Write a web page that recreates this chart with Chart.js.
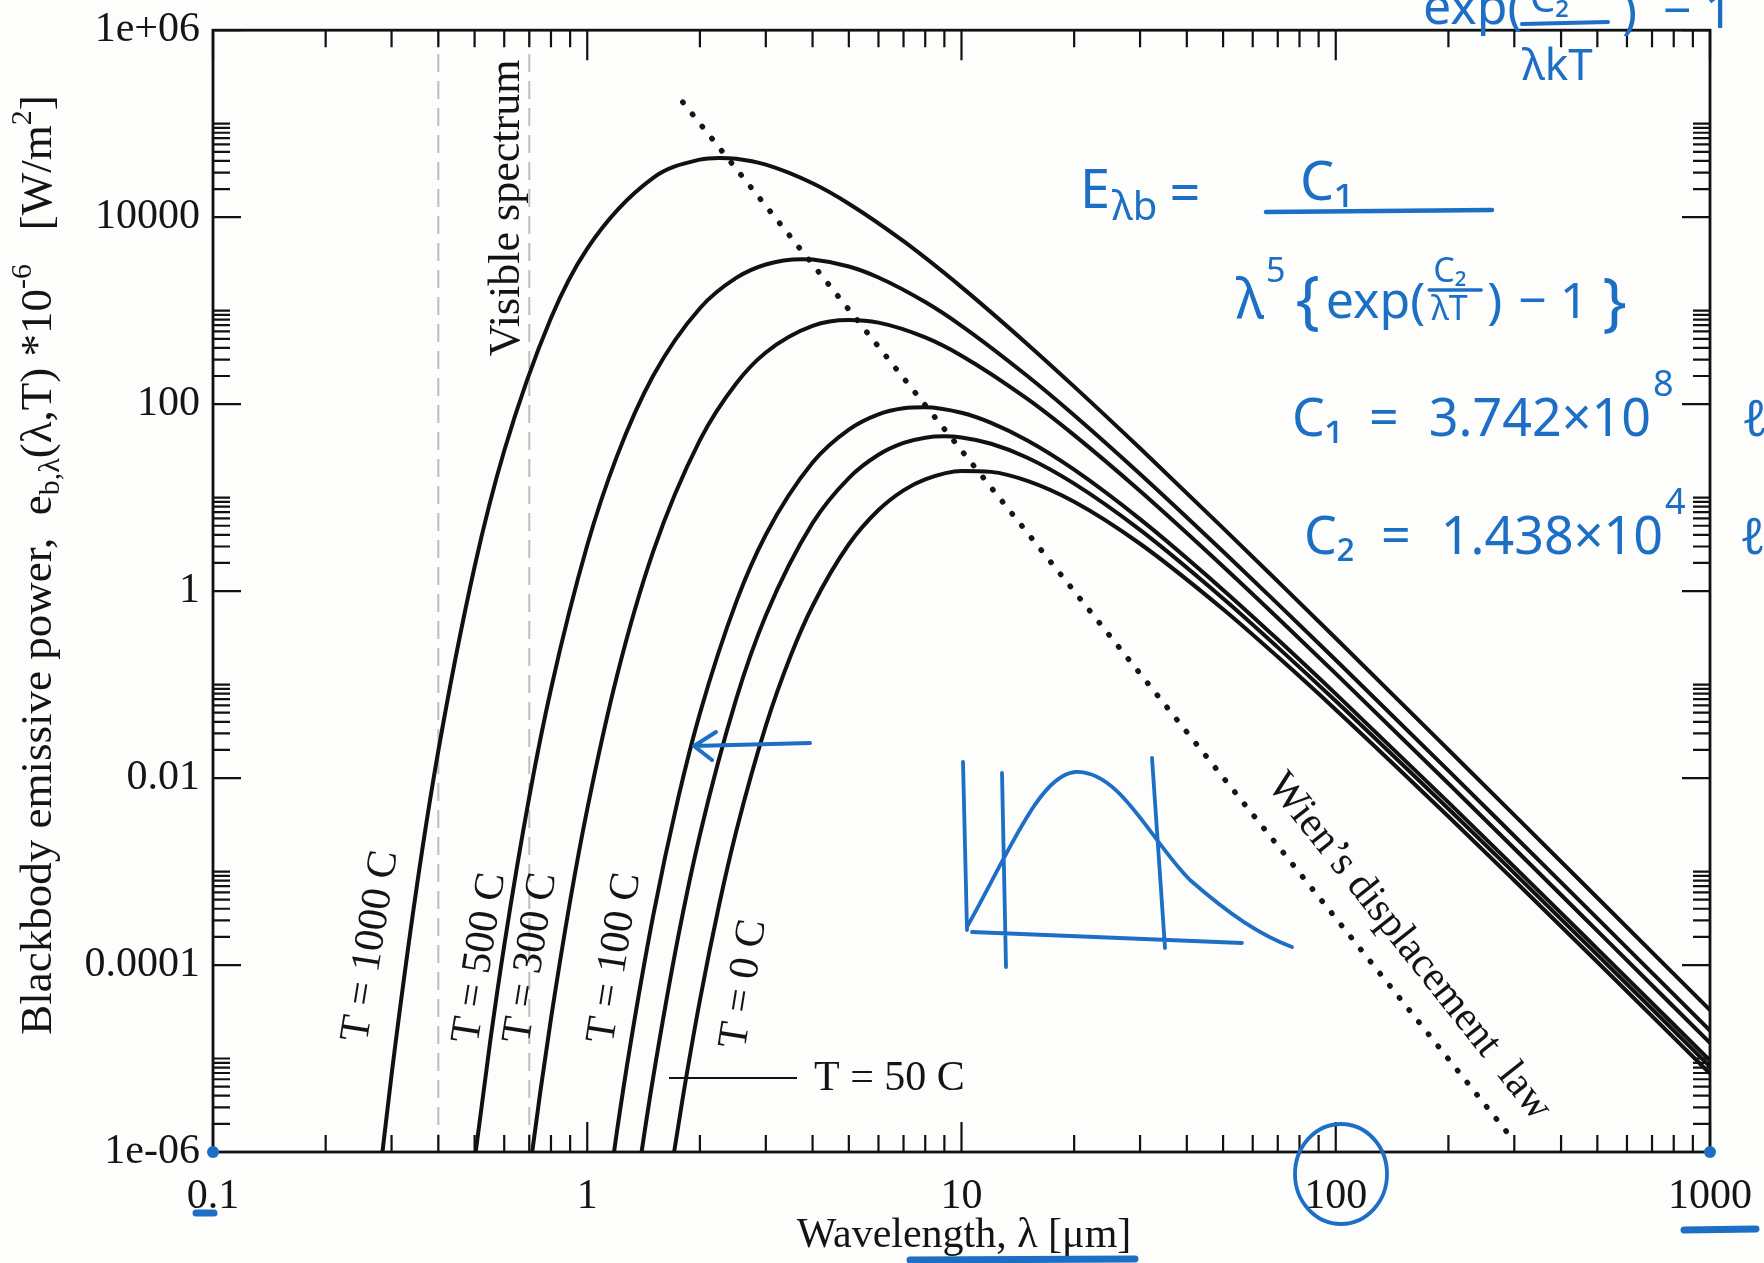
<!DOCTYPE html>
<html>
<head>
<meta charset="utf-8">
<script src="https://cdn.jsdelivr.net/npm/chart.js@4.4.1/dist/chart.umd.min.js"></script>
<style>
  html, body { margin: 0; padding: 0; background: #fdfdfc; }
  #wrap { width: 1764px; height: 1263px; }
</style>
</head>
<body>
<div id="wrap"><canvas id="chart" width="1764" height="1263"></canvas></div>
<script>
// wavelengths [um] and blackbody emissive power
const wl1000 = [0.28, 0.3, 0.35, 0.4, 0.5, 0.6, 0.8, 1, 1.5, 2, 2.25, 2.5, 3, 4, 5, 7, 10, 15, 20, 30, 50, 70, 100, 200, 300, 500, 1000];
const e1000 = [6.4e-7, 6.7e-6, 6.7e-4, 0.0195, 1.82, 31.7, 835, 4620, 26360, 41260, 43000, 42150, 36440, 23030, 13940, 5530, 1785, 438, 153.9, 33.7, 4.72, 1.27, 0.313, 0.0201, 0.00401, 5.24e-4, 3.29e-5];

const wl500 = [0.48, 0.5, 0.55, 0.6, 0.7, 0.8, 1, 1.2, 1.5, 2, 2.5, 3, 3.75, 4, 5, 6, 8, 10, 15, 20, 30, 50, 70, 100, 200, 300, 500, 1000];
const e500 = [2.12e-7, 8.15e-7, 1.49e-5, 1.62e-4, 0.0063, 0.0897, 3.09, 27.6, 201, 1062, 2240, 3119, 3550, 3518, 2966, 2264, 1235, 689, 200, 76.1, 17.9, 2.65, 0.731, 0.183, 0.012, 0.0024, 3.16e-4, 1.99e-5];

const wl300 = [0.68, 0.7, 0.75, 0.8, 0.9, 1, 1.2, 1.5, 2, 2.5, 3, 4, 5, 6, 8, 10, 15, 20, 30, 50, 70, 100, 200, 300, 500, 1000];
const e300 = [2.36e-7, 5.87e-7, 4.55e-6, 2.67e-5, 4.84e-4, 0.00466, 0.123, 2.645, 41.2, 166.5, 357, 688, 794, 744, 517, 330, 113.7, 46.6, 11.76, 1.835, 0.516, 0.131, 0.00874, 0.001764, 2.32e-4, 1.47e-5];

const wl100 = [1.1, 1.2, 1.3, 1.5, 1.75, 2, 2.5, 3, 4, 5, 6, 7, 8, 10, 12, 15, 20, 30, 50, 70, 100, 200, 300, 500, 1000];
const e100 = [1.37e-7, 1.65e-6, 1.31e-5, 3.35e-4, 0.0061, 0.0492, 0.763, 4.01, 23.7, 53.4, 77.8, 90.4, 92.7, 80.8, 63.0, 40.8, 19.9, 5.88, 1.03, 0.303, 0.0795, 0.0055, 0.001123, 1.49e-4, 9.52e-6];

const wl50 = [1.3, 1.4, 1.5, 1.75, 2, 2.5, 3, 4, 5, 6, 7, 8, 9, 10, 12, 15, 20, 30, 50, 70, 100, 200, 300, 500, 1000];
const e50 = [1.33e-7, 1.06e-6, 6.25e-6, 2.01e-4, 0.00248, 0.070, 0.548, 5.33, 16.2, 28.7, 38.4, 43.8, 45.2, 44.0, 37.7, 26.7, 14.1, 4.51, 0.833, 0.250, 0.0667, 0.00469, 9.62e-4, 1.285e-4, 8.21e-6];

const wl0 = [1.6, 1.7, 1.8, 2, 2.25, 2.5, 3, 3.5, 4, 5, 6, 7, 8, 10, 12, 15, 20, 30, 50, 70, 100, 200, 300, 500, 1000];
const e0 = [1.76e-7, 9.06e-7, 3.81e-6, 4.2e-5, 4.36e-4, 0.00268, 0.0361, 0.2056, 0.693, 3.17, 7.37, 11.97, 15.7, 19.3, 18.85, 15.1, 9.03, 3.21, 0.640, 0.198, 0.0539, 0.00388, 8.02e-4, 1.077e-4, 6.91e-6];

// Wien's displacement line (dotted) end points
const wienWl = [1.8, 300];
const wienE = [1.7e5, 1.3e-6];

// visible spectrum limits [um]
const visibleWl = [0.4, 0.7];

const xTickValues = [0.1, 1, 10, 100, 1000];
const xTickLabels = ['0.1', '1', '10', '100', '1000'];
const yTickValues = [1e-6, 1e-4, 1e-2, 1, 100, 1e4, 1e6];
const yTickLabels = ['1e-06', '0.0001', '0.01', '1', '100', '10000', '1e+06'];

const SERIF = '"Liberation Serif", "DejaVu Serif", serif';
const HAND = '"Noto Sans", "Open Sans", sans-serif';
const INK = '#1c6fc4';

function pts(xs, ys) {
  return xs.map((x, i) => ({ x: x, y: ys[i] }));
}

function labelFor(v, values, labels) {
  for (let i = 0; i < values.length; i++) {
    if (Math.abs(Math.log10(v) - Math.log10(values[i])) < 1e-9) return labels[i];
  }
  return '';
}

// majors plus 2..9 minors inside a decade
function xTicks() {
  const out = [];
  for (let d = 0; d < xTickValues.length; d++) {
    const m = xTickValues[d];
    out.push({ value: m, major: true });
    if (d < xTickValues.length - 1) for (let k = 2; k <= 9; k++) out.push({ value: m * k, major: false });
  }
  return out;
}
// y axis: labelled every two decades, minors only in the decade above each label
function yTicks() {
  const out = [];
  for (let d = 0; d < yTickValues.length; d++) {
    const m = yTickValues[d];
    out.push({ value: m, major: true });
    if (d < yTickValues.length - 1) for (let k = 2; k <= 10; k++) out.push({ value: m * k, major: false });
  }
  return out;
}

const curves = [
  [wl1000, e1000], [wl500, e500], [wl300, e300], [wl100, e100], [wl50, e50], [wl0, e0]
];

const datasets = curves.map(c => ({
  data: pts(c[0], c[1]),
  borderColor: '#111',
  borderWidth: 4,
  pointRadius: 0,
  cubicInterpolationMode: 'monotone',
  fill: false,
  order: 1
}));

datasets.push({
  data: pts(wienWl, wienE),
  borderColor: '#151515',
  borderWidth: 5.5,
  borderDash: [0.5, 15],
  borderCapStyle: 'round',
  pointRadius: 0,
  tension: 0,
  order: 1
});

visibleWl.forEach(w => {
  datasets.push({
    data: pts([w, w], [1e-6, 1e6]),
    borderColor: '#bdbdbd',
    borderWidth: 2,
    borderDash: [18, 9],
    pointRadius: 0,
    tension: 0,
    order: 3
  });
});

function drawRich(ctx, parts, cx, cy) {
  // parts: [text, size, dy]
  let total = 0;
  parts.forEach(p => { ctx.font = p[1] + 'px ' + SERIF; p.w = ctx.measureText(p[0]).width; total += p.w; });
  let x = cx - total / 2;
  parts.forEach(p => {
    ctx.font = p[1] + 'px ' + SERIF;
    ctx.fillText(p[0], x, cy + p[2]);
    x += p.w;
  });
}

const framePlugin = {
  id: 'frame',
  beforeDraw(chart) {
    const ctx = chart.ctx;
    ctx.save();
    ctx.fillStyle = '#fdfdfc';
    ctx.fillRect(0, 0, chart.width, chart.height);
    ctx.restore();
  },
  afterDatasetsDraw(chart) {
    const ctx = chart.ctx;
    const a = chart.chartArea;
    const xs = chart.scales.x, ys = chart.scales.y;
    ctx.save();
    ctx.strokeStyle = '#111';
    ctx.lineWidth = 2.8;
    ctx.strokeRect(a.left, a.top, a.right - a.left, a.bottom - a.top);

    // inward tick marks on all four sides
    ctx.lineWidth = 2.2;
    ctx.beginPath();
    xTicks().forEach(t => {
      const px = xs.getPixelForValue(t.value);
      const len = t.major ? 30 : 17;
      ctx.moveTo(px, a.bottom); ctx.lineTo(px, a.bottom - len);
      ctx.moveTo(px, a.top); ctx.lineTo(px, a.top + len);
    });
    yTicks().forEach(t => {
      const py = ys.getPixelForValue(t.value);
      const len = t.major ? 28 : 17;
      ctx.moveTo(a.left, py); ctx.lineTo(a.left + len, py);
      ctx.moveTo(a.right, py); ctx.lineTo(a.right - len, py);
    });
    ctx.stroke();

    // curve labels
    ctx.fillStyle = '#141414';
    ctx.font = '42px ' + SERIF;
    ctx.textAlign = 'center';
    ctx.textBaseline = 'middle';
    const rotLabels = [
      ['T = 1000 C', 371, 946],
      ['T = 500 C', 480, 958],
      ['T = 300 C', 531, 958],
      ['T = 100 C', 615, 958],
      ['T = 0 C', 744, 984]
    ];
    rotLabels.forEach(l => {
      ctx.save();
      ctx.translate(l[1], l[2]);
      ctx.rotate(-81 * Math.PI / 180);
      ctx.fillText(l[0], 0, 0);
      ctx.restore();
    });
    ctx.beginPath();
    ctx.lineWidth = 2;
    ctx.moveTo(669, 1078); ctx.lineTo(797, 1078);
    ctx.stroke();
    ctx.textAlign = 'left';
    ctx.fillText('T = 50 C', 814, 1079);

    ctx.save();
    ctx.translate(507, 208);
    ctx.rotate(-Math.PI / 2);
    ctx.textAlign = 'center';
    ctx.font = '44px ' + SERIF;
    ctx.fillText('Visible spectrum', 0, 0);
    ctx.restore();

    ctx.save();
    ctx.translate(1409, 947);
    ctx.rotate(51.5 * Math.PI / 180);
    ctx.textAlign = 'center';
    ctx.fillText('Wien\u2019s displacement  law', 0, 0);
    ctx.restore();

    // axis titles
    ctx.textAlign = 'left';
    ctx.textBaseline = 'middle';
    drawRich(ctx, [['Wavelength, \u03bb [\u03bcm]', 42, 0]], 964, 1236);
    ctx.save();
    ctx.translate(39, 565);
    ctx.rotate(-Math.PI / 2);
    drawRich(ctx, [
      ['Blackbody emissive power,  e', 45, 0],
      ['b,\u03bb', 30, 12],
      ['(\u03bb,T) *10', 45, 0],
      ['-6', 30, -16],
      ['   [W/m', 45, 0],
      ['2', 30, -16],
      [']', 45, 0]
    ], 0, 0);
    ctx.restore();
    ctx.restore();

    drawInk(ctx, a);
  }
};

// blue handwritten notes on the printed page
function drawInk(ctx, a) {
  ctx.save();
  ctx.fillStyle = INK;
  ctx.strokeStyle = INK;
  ctx.lineCap = 'round';
  ctx.lineJoin = 'round';
  ctx.textBaseline = 'alphabetic';
  ctx.textAlign = 'left';

  const txt = (s, x, y, size) => { ctx.font = size + 'px ' + HAND; ctx.fillText(s, x, y); return x + ctx.measureText(s).width; };
  // a run of pieces written one after another: [text, size, dy, gapBefore]
  const run = (parts, x, y) => {
    parts.forEach(p => { x = txt(p[0], x + (p[3] || 0), y + p[2], p[1]); });
    return x;
  };

  // top-right, cut off by the page edge
  txt('exp(', 1423, 24, 50);
  txt('C\u2082', 1530, 12, 40);
  txt('\u03bbkT', 1522, 80, 44);
  txt(')  \u2212 1', 1622, 28, 50);
  ctx.lineWidth = 4;
  ctx.beginPath(); ctx.moveTo(1522, 24); ctx.lineTo(1608, 22); ctx.stroke();

  // E_lambda,b = C1 / (lambda^5 {exp(C2/lambda T) - 1})
  run([['E', 54, 0], ['\u03bbb', 40, 12, 2], ['=', 54, 4, 12]], 1080, 208);
  txt('C\u2081', 1300, 200, 54);
  ctx.lineWidth = 4.5;
  ctx.beginPath(); ctx.moveTo(1266, 212); ctx.lineTo(1492, 210); ctx.stroke();
  let x = run([['\u03bb', 54, 0], ['5', 34, -36, 2], ['{', 64, 4, 10], ['exp(', 50, 0, 6]], 1236, 318);
  const fx = x + 6;
  txt('C\u2082', fx + 2, 282, 34);
  txt('\u03bbT', fx, 320, 34);
  ctx.lineWidth = 3.5;
  ctx.beginPath(); ctx.moveTo(fx - 2, 290); ctx.lineTo(fx + 50, 290); ctx.stroke();
  run([[')', 50, 0], ['\u2212 1', 50, 0, 16], ['}', 64, 6, 14]], fx + 56, 318);

  x = run([['C\u2081', 52, 0], ['=', 52, 0, 26], ['3.742\u00d710', 52, 0, 30]], 1292, 436);
  txt('8', x + 2, 396, 36);
  txt('\u2113', 1742, 436, 50);
  x = run([['C\u2082', 52, 0], ['=', 52, 0, 26], ['1.438\u00d710', 52, 0, 30]], 1304, 554);
  txt('4', x + 2, 514, 36);
  txt('\u2113', 1740, 554, 50);

  // arrow pointing at the 50 C curve
  ctx.lineWidth = 4;
  ctx.beginPath();
  ctx.moveTo(810, 743); ctx.lineTo(694, 746);
  ctx.moveTo(694, 746); ctx.lineTo(716, 732);
  ctx.moveTo(694, 746); ctx.lineTo(712, 760);
  ctx.stroke();

  // small sketch of a spectrum with two cut-offs
  ctx.lineWidth = 3.8;
  ctx.beginPath();
  ctx.moveTo(963, 762); ctx.lineTo(967, 930);
  ctx.moveTo(972, 932); ctx.lineTo(1242, 943);
  ctx.moveTo(1002, 773); ctx.lineTo(1006, 967);
  ctx.moveTo(1152, 758); ctx.lineTo(1165, 948);
  ctx.moveTo(967, 927);
  ctx.bezierCurveTo(1010, 850, 1040, 775, 1075, 772);
  ctx.bezierCurveTo(1120, 770, 1150, 840, 1190, 880);
  ctx.bezierCurveTo(1230, 915, 1260, 935, 1292, 947);
  ctx.stroke();

  // circle round 100, underlines and corner dots
  ctx.lineWidth = 3.8;
  ctx.beginPath();
  ctx.ellipse(1341, 1174, 46, 50, 0, 0, Math.PI * 2);
  ctx.stroke();
  ctx.lineWidth = 7;
  ctx.beginPath();
  ctx.moveTo(196, 1213); ctx.lineTo(214, 1213);
  ctx.moveTo(1684, 1230); ctx.lineTo(1756, 1229);
  ctx.moveTo(910, 1260); ctx.lineTo(1135, 1259);
  ctx.stroke();
  ctx.beginPath(); ctx.arc(a.left, a.bottom, 6, 0, Math.PI * 2); ctx.fill();
  ctx.beginPath(); ctx.arc(a.right, a.bottom, 6, 0, Math.PI * 2); ctx.fill();
  ctx.restore();
}

new Chart(document.getElementById('chart'), {
  type: 'line',
  data: { datasets: datasets },
  options: {
    responsive: false,
    animation: false,
    layout: { padding: { top: 27, right: 40, left: 0, bottom: 0 } },
    plugins: { legend: { display: false }, tooltip: { enabled: false } },
    scales: {
      x: {
        type: 'logarithmic',
        min: 0.1,
        max: 1000,
        grid: { display: false },
        border: { display: false },
        afterBuildTicks: s => { s.ticks = xTicks().map(t => ({ value: t.value })); },
        afterFit: s => { s.height = 111; },
        ticks: {
          autoSkip: false,
          maxRotation: 0,
          padding: 12,
          color: '#151515',
          font: { family: SERIF, size: 42 },
          callback: v => labelFor(v, xTickValues, xTickLabels)
        }
      },
      y: {
        type: 'logarithmic',
        min: 1e-6,
        max: 1e6,
        grid: { display: false },
        border: { display: false },
        afterBuildTicks: s => { s.ticks = yTicks().map(t => ({ value: t.value })); },
        afterFit: s => { s.width = 213; },
        ticks: {
          autoSkip: false,
          padding: 5,
          color: '#151515',
          font: { family: SERIF, size: 42 },
          callback: v => labelFor(v, yTickValues, yTickLabels)
        }
      }
    }
  },
  plugins: [framePlugin]
});
</script>
</body>
</html>
